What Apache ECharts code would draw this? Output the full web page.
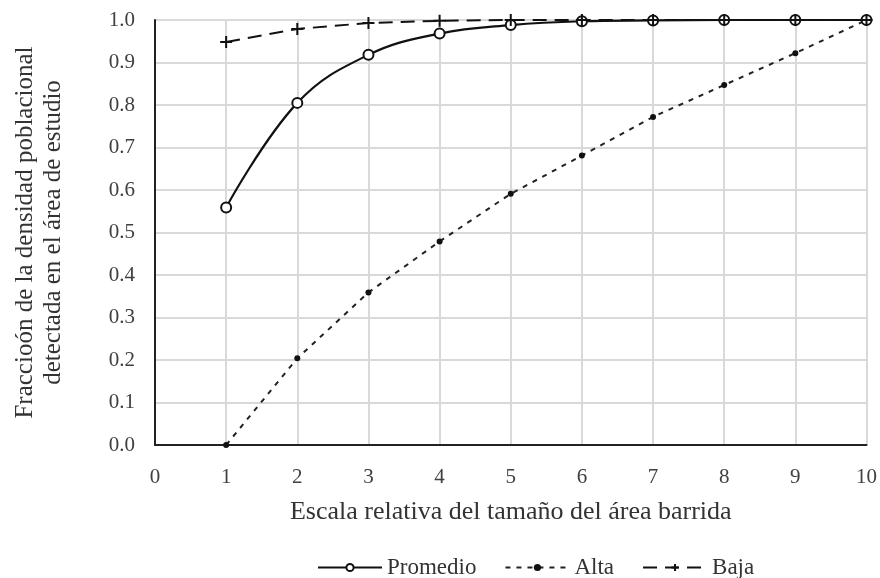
<!DOCTYPE html>
<html><head><meta charset="utf-8">
<script src="https://cdn.jsdelivr.net/npm/echarts@6/dist/echarts.min.js"></script>
<style>html,body{margin:0;padding:0;background:#fff}#c{width:880px;height:578px}</style>
</head><body><div id="c"></div>
<script>
const xValues = [1,2,3,4,5,6,7,8,9,10];
const promedio = [0.559,0.805,0.918,0.968,0.988,0.997,0.999,1.0,1.0,1.0];
const alta = [0.0,0.204,0.359,0.479,0.591,0.681,0.772,0.847,0.922,1.0];
const baja = [0.948,0.979,0.993,0.998,1.0,1.0,1.0,1.0,1.0,1.0];
const font = 'Liberation Serif';
const plus = 'path://M0,5L10,5M5,0L5,10';
const pair = a => xValues.map((x,i)=>[x,a[i]]);
const chart = echarts.init(document.getElementById('c'));
chart.setOption({
  animation:false,
  grid:{left:155,right:12,top:20,bottom:133},
  xAxis:{type:'value',min:0,max:10,interval:1,
    name:'Escala relativa del tamaño del área barrida',nameLocation:'middle',nameGap:54,
    nameTextStyle:{fontFamily:font,fontSize:26,color:'#333'},
    axisLine:{show:true,lineStyle:{color:'#222',width:2}},axisTick:{show:false},
    axisLabel:{fontFamily:font,fontSize:21,color:'#404040',margin:22},
    splitLine:{show:true,lineStyle:{color:'#d9d9d9',width:2}}},
  yAxis:{type:'value',min:0,max:1,interval:0.1,
    name:'Fraccioón de la densidad poblacional\ndetectada en el área de estudio',nameLocation:'middle',nameGap:88,
    nameTextStyle:{fontFamily:font,fontSize:25,color:'#333',lineHeight:28},
    axisLine:{show:true,lineStyle:{color:'#222',width:2}},axisTick:{show:false},
    axisLabel:{fontFamily:font,fontSize:21,color:'#404040',margin:20,formatter:v=>v.toFixed(1)},
    splitLine:{show:true,lineStyle:{color:'#d9d9d9',width:2}}},
  legend:{top:551,left:312,itemWidth:64,itemHeight:9,itemGap:28,
    textStyle:{fontFamily:font,fontSize:23,color:'#333'},
    data:['Promedio','Alta','Baja']},
  series:[
    {name:'Alta',type:'line',data:pair(alta),symbol:'circle',symbolSize:6,
     lineStyle:{color:'#222',width:2,type:[5,6]},
     itemStyle:{color:'#111'}},
    {name:'Promedio',type:'line',data:pair(promedio),smooth:0.4,symbol:'circle',symbolSize:10,
     lineStyle:{color:'#111',width:2.2},
     itemStyle:{color:'#fff',borderColor:'#111',borderWidth:2}},
    {name:'Baja',type:'line',data:pair(baja),symbol:plus,symbolSize:12,
     lineStyle:{color:'#111',width:2,type:[14,8]},
     itemStyle:{color:'#111',borderColor:'#111',borderWidth:2}}
  ]
});
</script></body></html>
